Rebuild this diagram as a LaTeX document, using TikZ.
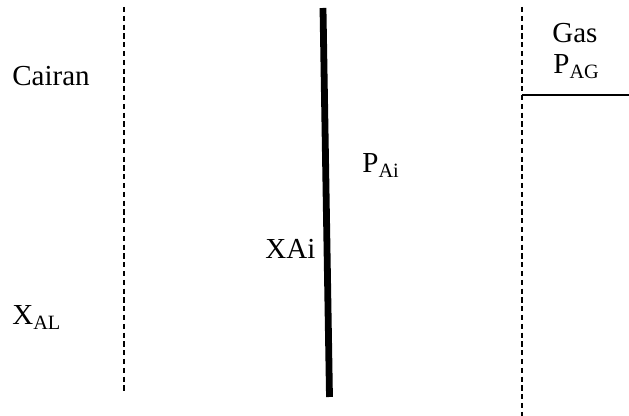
\documentclass[tikz,border=0pt]{standalone}
\usepackage{fontspec}
\setmainfont{Liberation Serif}
\usetikzlibrary{positioning}
\tikzset{
  grenz/.style={line width=0.8pt, dash pattern=on 2.6pt off 1.8pt},
  antarmuka/.style={line width=3.4pt},
  batas/.style={line width=0.6pt},
  label/.style={inner sep=0pt, anchor=base west, font=\fontsize{14.5}{17}\selectfont}
}

\begin{document}
\begin{tikzpicture}[x=0.5pt,y=-0.5pt]

\useasboundingbox (0,0) rectangle (629,416);

% batas lapisan
\coordinate (kiriAtas)  at (124,7);
\coordinate (kiriBawah) at (124,393);
\coordinate (kananAtas)  at (522,7);
\coordinate (kananBawah) at (522,416);
\coordinate (tengahAtas)  at (323,8);
\coordinate (tengahBawah) at (329.5,397);
\coordinate (gasKiri)  at (522,95);
\coordinate (gasKanan) at (629,95);

\draw[grenz] (kiriAtas) -- (kiriBawah);
\draw[grenz] (kananAtas) -- (kananBawah);
\draw[antarmuka] (tengahAtas) -- (tengahBawah);
\draw[batas] (gasKiri) -- (gasKanan);

% teks
\node[label] (cairan) at (12,86) {Cairan};
\node[label] (gas) at (552,43) {Gas};
\node[label] (pag) at (553,74) {P\textsubscript{AG}};
\node[label] (pai) at (362,173) {P\textsubscript{Ai}};
\node[label] (xai) at (265,259) {XAi};
\node[label] (xal) at (12,325) {X\textsubscript{AL}};

\end{tikzpicture}
\end{document}
